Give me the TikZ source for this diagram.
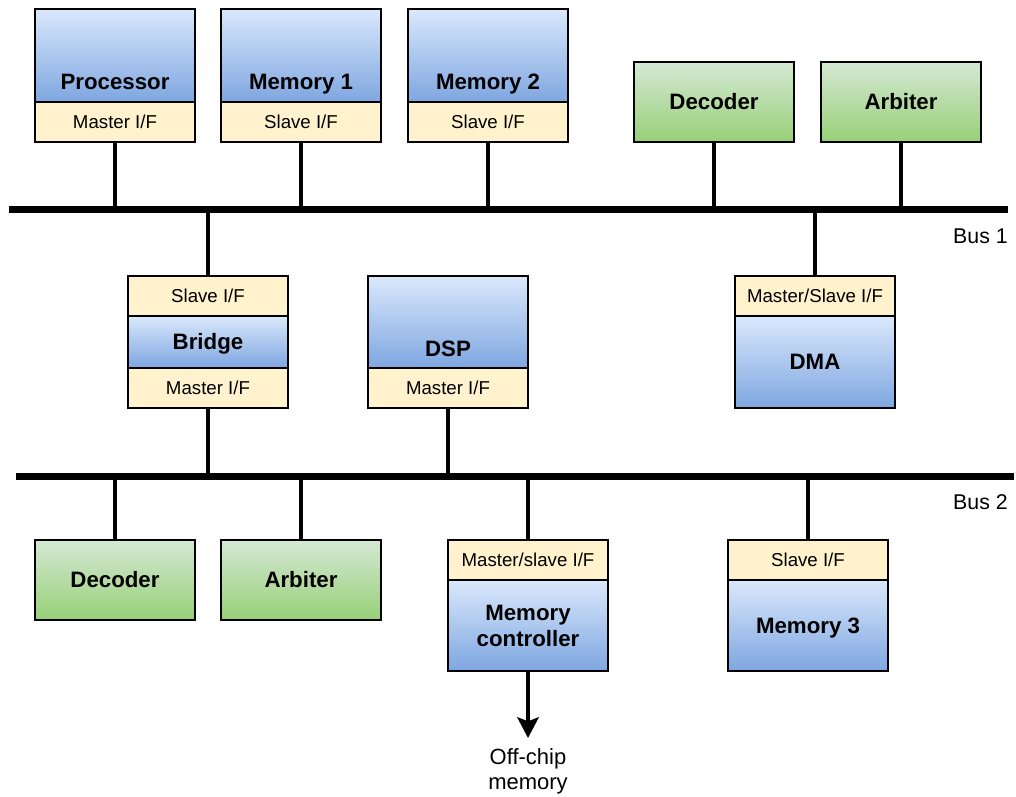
\documentclass[tikz,border=0pt]{standalone}
\usepackage{fontspec}
\setmainfont{Liberation Sans}
\usetikzlibrary{arrows.meta}
\definecolor{blueT}{HTML}{DAE8FC}
\definecolor{blueB}{HTML}{7EA6E0}
\definecolor{greenT}{HTML}{D5E8D4}
\definecolor{greenB}{HTML}{97D077}
\definecolor{ifFill}{HTML}{FFF2CC}
\newcommand{\boldlbl}{\fontsize{16.7}{19.5}\selectfont\bfseries}
\newcommand{\reglbl}{\fontsize{14}{16.8}\selectfont}
\newcommand{\buslbl}{\fontsize{16}{18.75}\selectfont}
\newcommand{\notelbl}{\fontsize{16.5}{18.75}\selectfont}
\begin{document}
\begin{tikzpicture}[x=0.75pt,y=-0.75pt,
  box/.style={draw=black, line width=1.8pt, minimum width=120pt, inner sep=0pt,
              outer sep=0pt, anchor=north west, align=center},
  core/.style={box, top color=blueT, bottom color=blueB, font=\boldlbl},
  ctrl/.style={box, top color=greenT, bottom color=greenB, minimum height=60pt, font=\boldlbl},
  iface/.style={box, fill=ifFill, minimum height=30pt, font=\reglbl},
  below/.style={anchor=north},
  oneline/.style={text height=15pt, text depth=3.5pt},
  btxt/.style={font=\boldlbl, inner sep=0pt, anchor=base},
  bus/.style={line width=5.25pt},
  conn/.style={line width=3pt},
  lbl/.style={font=\buslbl, inner sep=0pt, align=center}]
\useasboundingbox (0,0) rectangle (1016,796);

% system buses
\coordinate (b1w) at (9,209);
\coordinate (b1e) at (1008,209);
\coordinate (b2w) at (16,476);
\coordinate (b2e) at (1014,476);

% ---- masters and slaves on bus 1 ----
\node[core, minimum height=69.75pt] (proc) at (35,9) {};
\node[btxt] (proct) at ([yshift=9.5pt]proc.south) {Processor};
\node[iface, below] (procif) at (proc.south) {Master I/F};

\node[core, minimum height=69.75pt] (mem1) at (221,9) {};
\node[btxt] (mem1t) at ([yshift=9.5pt]mem1.south) {Memory 1};
\node[iface, below] (mem1if) at (mem1.south) {Slave I/F};

\node[core, minimum height=69.75pt] (mem2) at (408,9) {};
\node[btxt] (mem2t) at ([yshift=9.5pt]mem2.south) {Memory 2};
\node[iface, below] (mem2if) at (mem2.south) {Slave I/F};

\node[ctrl] (dec1) at (634,62) {Decoder};
\node[ctrl] (arb1) at (821,62) {Arbiter};

% ---- bridge, DSP and DMA between the buses ----
\node[iface] (brsif) at (128,276) {Slave I/F};
\node[core, oneline, below, minimum height=39pt] (bridge) at (brsif.south) {Bridge};
\node[iface, below] (brmif) at (bridge.south) {Master I/F};

\node[core, minimum height=69pt] (dsp) at (368,276) {};
\node[btxt] (dspt) at ([yshift=9pt]dsp.south) {DSP};
\node[iface, below] (dspif) at (dsp.south) {Master I/F};

\node[iface] (dmaif) at (735,276) {Master/Slave I/F};
\node[core, below, minimum height=69pt] (dma) at (dmaif.south) {DMA};

% ---- components on bus 2 ----
\node[ctrl] (dec2) at (35,540) {Decoder};
\node[ctrl] (arb2) at (221,540) {Arbiter};

\node[iface] (mcif) at (448,540) {Master/slave I/F};
\node[core, below, minimum height=68.25pt] (mc) at (mcif.south) {Memory\\controller};

\node[iface] (m3if) at (728,540) {Slave I/F};
\node[core, oneline, below, minimum height=68.25pt] (m3) at (m3if.south) {Memory 3};

\node[lbl, font=\notelbl, anchor=north] (offchip) at (528,748) {Off-chip\\memory};

% bus labels
\node[lbl, anchor=east] (bus1) at (1008,236) {Bus 1};
\node[lbl, anchor=east] (bus2) at (1008,502) {Bus 2};

% bus lines
\draw[bus] (b1w) -- (b1e);
\draw[bus] (b2w) -- (b2e);

% taps onto bus 1
\draw[conn] (procif.south) -- (procif.south |- b1w);
\draw[conn] (mem1if.south) -- (mem1if.south |- b1w);
\draw[conn] (mem2if.south) -- (mem2if.south |- b1w);
\draw[conn] (dec1.south) -- (dec1.south |- b1w);
\draw[conn] (arb1.south) -- (arb1.south |- b1w);
\draw[conn] (brsif.north) -- (brsif.north |- b1w);
\draw[conn] (dmaif.north) -- (dmaif.north |- b1w);

% taps onto bus 2
\draw[conn] (brmif.south) -- (brmif.south |- b2w);
\draw[conn] (dspif.south) -- (dspif.south |- b2w);
\draw[conn] (dec2.north) -- (dec2.north |- b2w);
\draw[conn] (arb2.north) -- (arb2.north |- b2w);
\draw[conn] (mcif.north) -- (mcif.north |- b2w);
\draw[conn] (m3if.north) -- (m3if.north |- b2w);

% memory controller to off-chip memory
\draw[conn, shorten >=7.5pt, -{Stealth[width=16pt,length=15.5pt,inset=3pt]}] (mc.south) -- (offchip.north);
\end{tikzpicture}
\end{document}
